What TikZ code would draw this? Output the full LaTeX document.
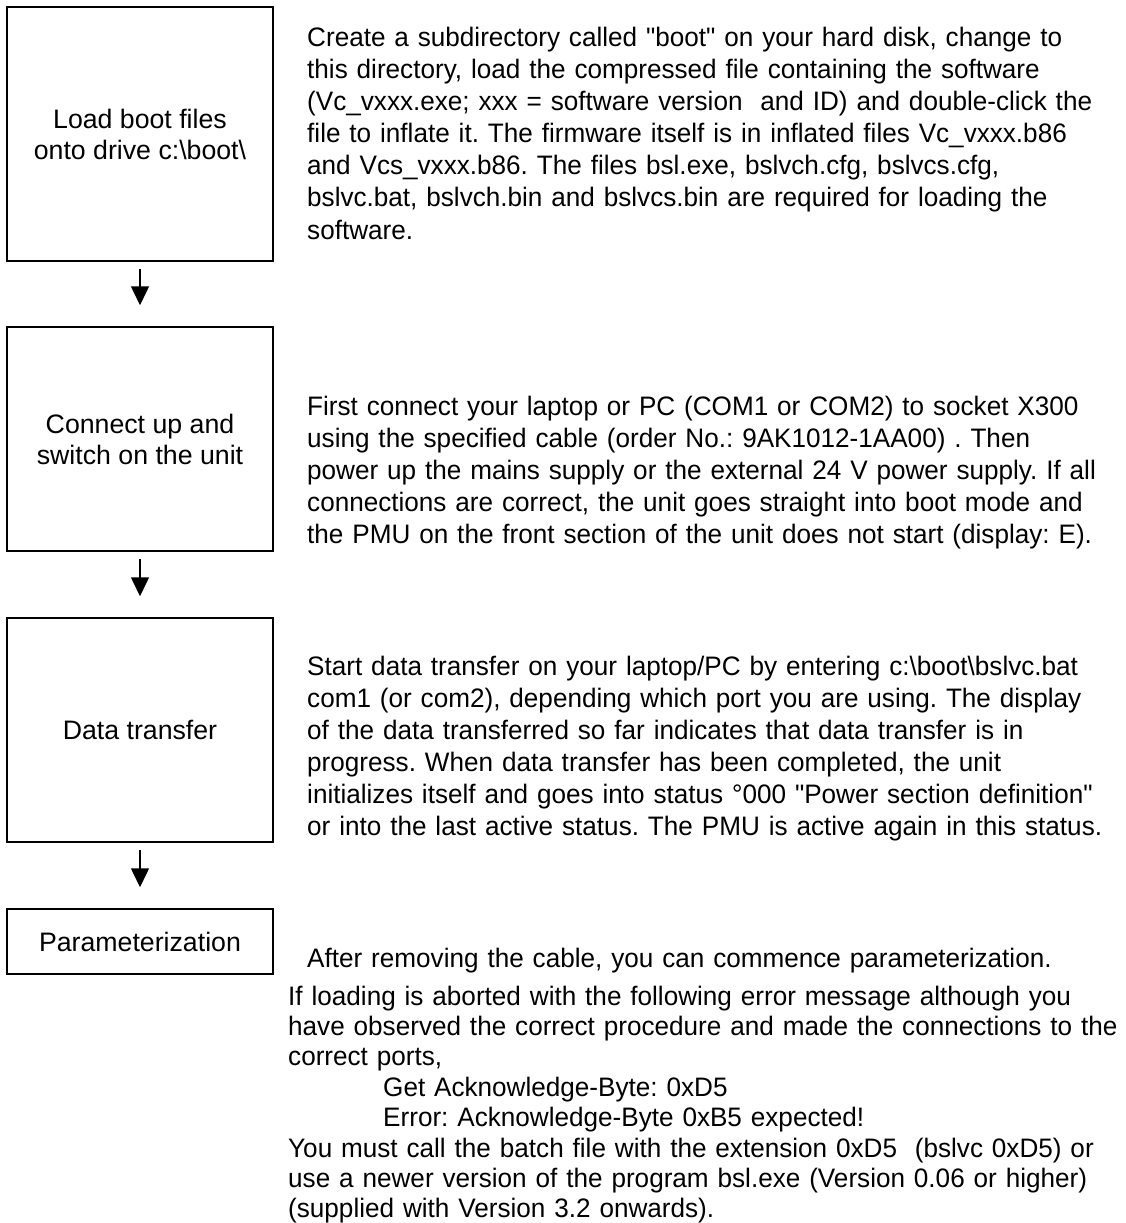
\documentclass[tikz,border=0pt]{standalone}
\usepackage{fontspec}
\setmainfont{Liberation Sans}[Ligatures=TeXOff]
\newfontfamily\descfont{Liberation Sans}[Ligatures=TeXOff, FakeStretch=0.978]
\usetikzlibrary{arrows.meta}
\begin{document}
\frenchspacing
\begin{tikzpicture}[x=1pt,y=-1pt,
  stepbox/.style={draw, line width=1.5pt, inner sep=0pt, align=center, font=\fontsize{26.7}{31}\selectfont},
  desc/.style={anchor=base west, inner sep=0pt, align=left, text width=900pt, font=\descfont\frenchspacing\fontsize{26.7}{32}\selectfont},
  note/.style={desc, font=\descfont\frenchspacing\fontsize{26.7}{30.4}\selectfont},
  flow/.style={line width=1.5pt, -{Triangle[width=18pt,length=19pt]}, shorten <=7pt, shorten >=21pt}]
\useasboundingbox (0,0) rectangle (1126,1223);
\fill[white] (0,0) rectangle (1126,1223);

\node[stepbox, minimum width=266pt, minimum height=254pt] (b1) at (140,134) {Load boot files\\onto drive c:\textbackslash boot\textbackslash};
\node[stepbox, minimum width=266pt, minimum height=224pt] (b2) at (140,439) {Connect up and\\switch on the unit};
\node[stepbox, minimum width=266pt, minimum height=224pt] (b3) at (140,730) {Data transfer};
\node[stepbox, minimum width=266pt, minimum height=65pt] (b4) at (140,941.5) {Parameterization};

\draw[flow] (b1.south) -- (b2.north);
\draw[flow] (b2.south) -- (b3.north);
\draw[flow] (b3.south) -- (b4.north);

\node[desc] (t1) at (307,47) {Create a subdirectory called "boot" on your hard disk, change to\\
this directory, load the compressed file containing the software\\
(Vc\_vxxx.exe; xxx = software version\ \ and ID) and double-click the\\
file to inflate it. The firmware itself is in inflated files Vc\_vxxx.b86\\
and Vcs\_vxxx.b86. The files bsl.exe, bslvch.cfg, bslvcs.cfg,\\
bslvc.bat, bslvch.bin and bslvcs.bin are required for loading the\\
software.};

\node[desc] (t2) at (307,415) {First connect your laptop or PC (COM1 or COM2) to socket X300\\
using the specified cable (order No.: 9AK1012-1AA00) . Then\\
power up the mains supply or the external 24 V power supply. If all\\
connections are correct, the unit goes straight into boot mode and\\
the PMU on the front section of the unit does not start (display: E).};

\node[desc] (t3) at (307,675) {Start data transfer on your laptop/PC by entering c:\textbackslash boot\textbackslash bslvc.bat\\
com1 (or com2), depending which port you are using. The display\\
of the data transferred so far indicates that data transfer is in\\
progress. When data transfer has been completed, the unit\\
initializes itself and goes into status °000 "Power section definition"\\
or into the last active status. The PMU is active again in this status.};

\node[desc] (t4) at (307,967) {After removing the cable, you can commence parameterization.};

\node[note] (t5) at (288,1005) {If loading is aborted with the following error message although you\\
have observed the correct procedure and made the connections to the\\
correct ports,\\
\hspace*{95pt}Get Acknowledge-Byte: 0xD5\\
\hspace*{95pt}Error: Acknowledge-Byte 0xB5 expected!\\
You must call the batch file with the extension 0xD5\ \ (bslvc 0xD5) or\\
use a newer version of the program bsl.exe (Version 0.06 or higher)\\
(supplied with Version 3.2 onwards).};
\end{tikzpicture}
\end{document}
